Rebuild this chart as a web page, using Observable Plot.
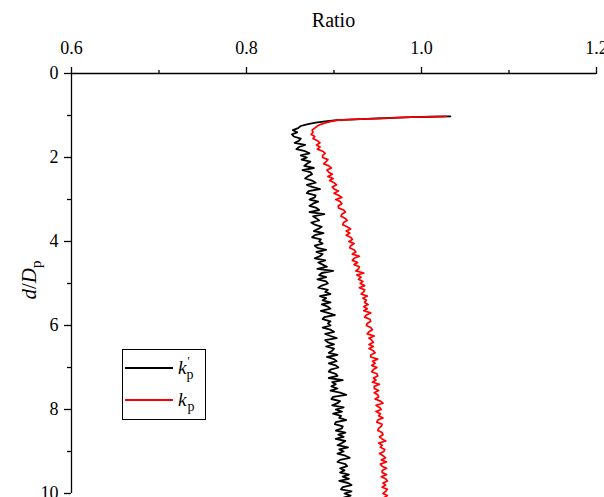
<!DOCTYPE html>
<html><head><meta charset="utf-8">
<script src="https://cdn.jsdelivr.net/npm/d3@7"></script>
<script src="https://cdn.jsdelivr.net/npm/@observablehq/plot@0.6"></script>
<style>
body{margin:0;background:#fff;}
#wrap{position:relative;width:604px;height:497px;overflow:hidden;}
</style></head><body><div id="wrap"></div>
<script>
const xTicks = [0.6, 0.8, 1.0, 1.2];
const xMinor = [0.7, 0.9, 1.1];
const yTicks = [0, 2, 4, 6, 8, 10];
const yMinor = [1, 3, 5, 7, 9];
const seriesNames = ["k'p", "kp"];
const seriesColors = ["#000000", "#ff0000"];

// head of the curves (d/Dp from 1.0 to 1.45)
const headDepthBlack = [1.02, 1.03, 1.04, 1.05, 1.065, 1.085, 1.11, 1.14, 1.17, 1.21, 1.25, 1.30, 1.35, 1.40, 1.45];
const headRatioBlack = [1.033, 1.010, 0.989, 0.974, 0.957, 0.930, 0.903, 0.890, 0.879, 0.869, 0.862, 0.859, 0.853, 0.858, 0.852];
const headDepthRed = [1.02, 1.03, 1.04, 1.05, 1.065, 1.085, 1.11, 1.14, 1.17, 1.21, 1.25, 1.30, 1.35, 1.40, 1.45];
const headRatioRed = [1.028, 1.008, 0.988, 0.973, 0.956, 0.930, 0.905, 0.897, 0.891, 0.885, 0.881, 0.878, 0.875, 0.876, 0.874];

// body of the curves, sampled every 0.05 d/Dp from 1.50 to 10.10
const bodyDepthStart = 1.5, bodyDepthStep = 0.05;
const bodyRatioBlack = [
0.854,0.862,0.860,0.855,0.867,0.860,0.857,0.867,0.872,0.862,
0.869,0.863,0.873,0.869,0.866,0.877,0.864,0.873,0.875,0.870,
0.867,0.875,0.879,0.869,0.875,0.884,0.871,0.869,0.879,0.878,
0.872,0.882,0.876,0.872,0.880,0.883,0.872,0.889,0.876,0.880,
0.883,0.874,0.878,0.886,0.882,0.877,0.888,0.878,0.875,0.885,
0.883,0.887,0.878,0.881,0.891,0.880,0.887,0.884,0.878,0.890,
0.882,0.887,0.892,0.881,0.899,0.886,0.883,0.891,0.881,0.891,
0.893,0.886,0.882,0.893,0.890,0.896,0.884,0.891,0.887,0.896,
0.886,0.893,0.896,0.885,0.893,0.901,0.889,0.887,0.896,0.893,
0.896,0.887,0.896,0.900,0.890,0.896,0.903,0.890,0.893,0.900,
0.891,0.900,0.898,0.894,0.904,0.892,0.900,0.903,0.894,0.902,
0.905,0.896,0.894,0.902,0.904,0.894,0.910,0.898,0.902,0.897,
0.904,0.896,0.907,0.914,0.899,0.897,0.907,0.904,0.898,0.911,
0.902,0.909,0.899,0.908,0.906,0.914,0.902,0.901,0.910,0.909,
0.902,0.913,0.905,0.911,0.902,0.913,0.909,0.904,0.916,0.906,
0.911,0.904,0.913,0.918,0.907,0.904,0.913,0.915,0.907,0.912,
0.907,0.917,0.910,0.917,0.906,0.916,0.920,0.910,0.908,0.920,
0.912,0.919,0.911];
const bodyRatioRed = [
0.878,0.876,0.881,0.884,0.880,0.884,0.881,0.887,0.890,0.887,
0.887,0.893,0.891,0.888,0.894,0.897,0.892,0.894,0.898,0.893,
0.899,0.895,0.900,0.903,0.898,0.900,0.905,0.900,0.905,0.909,
0.902,0.907,0.909,0.905,0.905,0.911,0.913,0.909,0.908,0.913,
0.915,0.911,0.910,0.915,0.919,0.914,0.918,0.914,0.919,0.921,
0.917,0.923,0.919,0.918,0.923,0.925,0.921,0.929,0.923,0.921,
0.927,0.923,0.929,0.928,0.925,0.934,0.926,0.931,0.928,0.933,
0.930,0.935,0.929,0.935,0.934,0.931,0.938,0.933,0.937,0.935,
0.939,0.934,0.938,0.934,0.942,0.937,0.935,0.941,0.942,0.938,
0.937,0.942,0.944,0.940,0.938,0.946,0.940,0.943,0.945,0.940,
0.945,0.940,0.945,0.947,0.942,0.942,0.950,0.944,0.947,0.943,
0.949,0.945,0.943,0.949,0.950,0.945,0.948,0.944,0.952,0.946,
0.946,0.951,0.946,0.950,0.951,0.947,0.953,0.956,0.948,0.952,
0.954,0.948,0.953,0.951,0.956,0.950,0.949,0.955,0.954,0.951,
0.950,0.955,0.956,0.952,0.955,0.959,0.951,0.955,0.953,0.958,
0.957,0.952,0.956,0.959,0.954,0.960,0.953,0.955,0.960,0.955,
0.955,0.960,0.954,0.959,0.961,0.956,0.959,0.955,0.961,0.959,
0.956,0.961,0.957];

function buildSeries(name, headD, headR, bodyR) {
  const rows = headD.map((d, i) => ({d, v: headR[i], s: name}));
  bodyR.forEach((v, i) => rows.push({d: +(bodyDepthStart + i * bodyDepthStep).toFixed(2), v, s: name}));
  return rows;
}
const black = buildSeries(seriesNames[0], headDepthBlack, headRatioBlack, bodyRatioBlack);
const red = buildSeries(seriesNames[1], headDepthRed, headRatioRed, bodyRatioRed);

const font = "Liberation Serif";
const chart = Plot.plot({
  width: 604, height: 497,
  marginLeft: 71, marginRight: 8, marginTop: 73, marginBottom: 4,
  style: {fontFamily: font, fontSize: "18px", background: "white", color: "black"},
  x: {domain: [0.6, 1.2]},
  y: {domain: [0, 10], reverse: true},
  color: {domain: seriesNames, range: seriesColors},
  marks: [
    Plot.line(black, {x: "v", y: "d", stroke: "s", strokeWidth: 1.8, curve: "linear"}),
    Plot.line(red, {x: "v", y: "d", stroke: "s", strokeWidth: 1.7, curve: "linear"}),
    Plot.ruleY([0], {stroke: "black", strokeWidth: 1.3}),
    Plot.ruleX([0.6], {stroke: "black", strokeWidth: 1.3}),
    Plot.axisX(xTicks, {anchor: "top", tickSize: 7, tickPadding: 13, tickFormat: d => d.toFixed(1), label: null, strokeWidth: 1.3}),
    Plot.axisX(xMinor, {anchor: "top", tickSize: 4, tickFormat: () => "", label: null, strokeWidth: 1.3}),
    Plot.axisY(yTicks, {anchor: "left", tickSize: 7, tickPadding: 6, label: null, strokeWidth: 1.3}),
    Plot.axisY(yMinor, {anchor: "left", tickSize: 4, tickFormat: () => "", label: null, strokeWidth: 1.3})
  ]
});
document.getElementById("wrap").appendChild(chart);

const svg = d3.select(chart);
const xs = chart.scale("x"), ys = chart.scale("y");
const xMid = (xs.apply(0.6) + xs.apply(1.2)) / 2;

// x title
svg.append("text").attr("x", xMid).attr("y", 27).attr("text-anchor", "middle")
  .attr("font-family", font).attr("font-size", 20).attr("fill", "black").text("Ratio");

// y title d/Dp
const yl = svg.append("text").attr("transform", `translate(36,${ys.apply(5) - 3}) rotate(-90)`)
  .attr("text-anchor", "middle").attr("font-family", font).attr("font-size", 21).attr("fill", "black");
yl.append("tspan").attr("font-style", "italic").text("d");
yl.append("tspan").text("/");
yl.append("tspan").attr("font-style", "italic").text("D");
yl.append("tspan").attr("font-size", 15).attr("dy", 5).text("p");

// legend
const lg = svg.append("g");
lg.append("rect").attr("x", 122.5).attr("y", 349.5).attr("width", 83).attr("height", 70)
  .attr("fill", "white").attr("stroke", "black").attr("stroke-width", 1);
const legendRows = [{y: 368}, {y: 400}];
seriesNames.forEach((name, i) => {
  const y = legendRows[i].y;
  lg.append("line").attr("x1", 125).attr("x2", 173).attr("y1", y).attr("y2", y)
    .attr("stroke", seriesColors[i]).attr("stroke-width", 2);
  const t = lg.append("text").attr("x", 178).attr("y", y + 6).attr("text-anchor", "start")
    .attr("font-family", font).attr("font-size", 19).attr("fill", "black");
  t.append("tspan").attr("font-style", "italic").text("k");
  if (i === 0) {
    t.append("tspan").attr("font-size", 12).attr("dy", -9).attr("dx", 1).text("'");
    t.append("tspan").attr("font-size", 14).attr("dy", 14).attr("dx", -3).text("p");
  } else {
    t.append("tspan").attr("font-size", 14).attr("dy", 5).attr("dx", 1).text("p");
  }
});
</script></body></html>
